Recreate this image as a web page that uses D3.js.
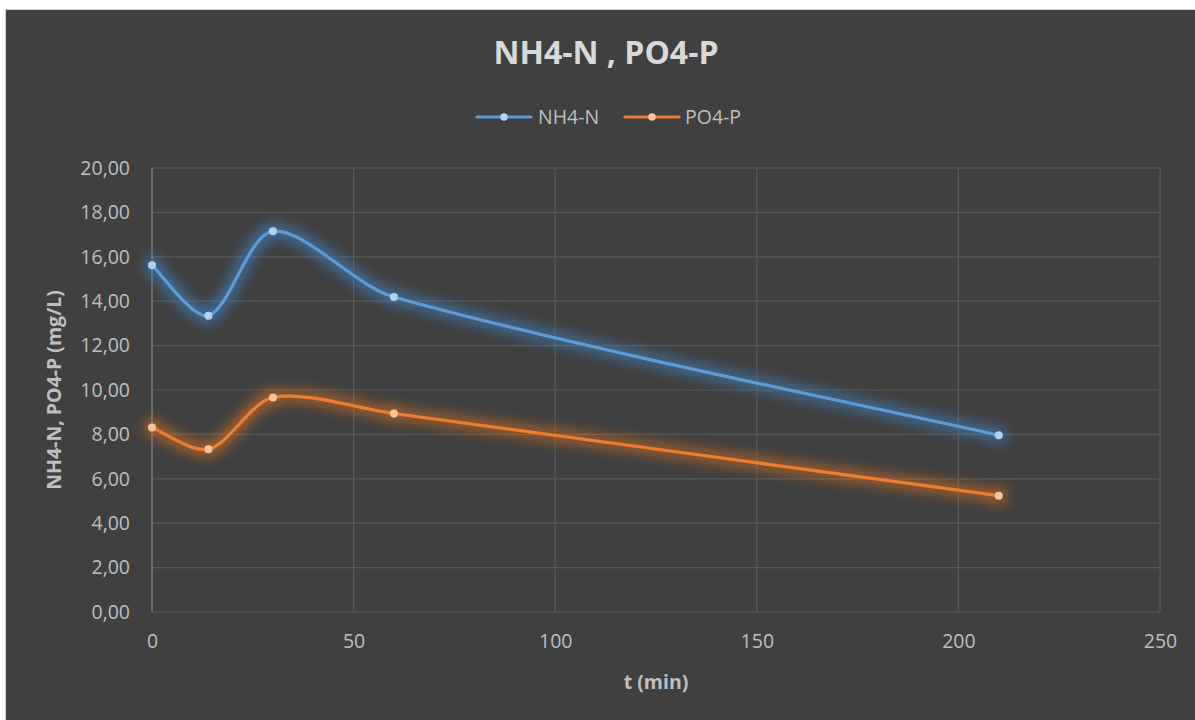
<!DOCTYPE html>
<html>
<head>
<meta charset="utf-8">
<script src="https://cdn.jsdelivr.net/npm/d3@7"></script>
<style>
  html, body { margin: 0; padding: 0; background: #ffffff; }
  svg { display: block; }
</style>
</head>
<body>
<svg id="chart" width="1195" height="720"></svg>
<script>
// Sampling times (min)
const times = [0, 14, 30, 60, 210];
// Measured concentrations (mg/L)
const nh4 = [15.62, 13.35, 17.15, 14.19, 7.96];
const po4 = [8.31, 7.33, 9.66, 8.94, 5.24];
const seriesNames = ["NH4-N", "PO4-P"];
const xTicks = [0, 50, 100, 150, 200, 250];
const yTicks = [0, 2, 4, 6, 8, 10, 12, 14, 16, 18, 20];

const svg = d3.select("#chart");
const W = 1195, H = 720;
const font = "'Open Sans', 'Noto Sans', sans-serif";

// chart area panel
svg.append("rect").attr("x", 5.5).attr("y", 9.5).attr("width", W).attr("height", H)
  .attr("fill", "#404040").attr("stroke", "#d0d0d0").attr("stroke-width", 1);

const plot = { left: 152, right: 1160, top: 168, bottom: 612 };
const x = d3.scaleLinear().domain([0, 250]).range([plot.left, plot.right]);
const y = d3.scaleLinear().domain([0, 20]).range([plot.bottom, plot.top]);

// soft glow around the series lines and markers
const defs = svg.append("defs");
function glow(id, color) {
  const f = defs.append("filter").attr("id", id)
    .attr("x", "-10%").attr("y", "-30%").attr("width", "120%").attr("height", "160%");
  f.append("feMorphology").attr("in", "SourceAlpha").attr("operator", "dilate").attr("radius", 3).attr("result", "d");
  f.append("feGaussianBlur").attr("in", "d").attr("stdDeviation", 6.5).attr("result", "b");
  f.append("feFlood").attr("flood-color", color).attr("flood-opacity", 0.75).attr("result", "c");
  f.append("feComposite").attr("in", "c").attr("in2", "b").attr("operator", "in").attr("result", "g");
  const m = f.append("feMerge");
  m.append("feMergeNode").attr("in", "g");
  m.append("feMergeNode").attr("in", "SourceGraphic");
}
glow("glowBlue", "#3f86d0");
glow("glowOrange", "#e2721f");

// gridlines
svg.append("g").selectAll("line").data(yTicks).join("line")
  .attr("x1", plot.left).attr("x2", plot.right)
  .attr("y1", d => y(d)).attr("y2", d => y(d))
  .attr("stroke", "#595959").attr("stroke-width", 1.2);
svg.append("g").selectAll("line").data(xTicks.slice(1)).join("line")
  .attr("x1", d => x(d)).attr("x2", d => x(d))
  .attr("y1", plot.top).attr("y2", plot.bottom)
  .attr("stroke", "#595959").attr("stroke-width", 1.2);
// vertical axis line
svg.append("line").attr("x1", x(0)).attr("x2", x(0))
  .attr("y1", plot.top).attr("y2", plot.bottom)
  .attr("stroke", "#8a8a8a").attr("stroke-width", 1.2);

// axes (labels only)
const yAxis = d3.axisLeft(y).tickValues(yTicks).tickSize(0).tickPadding(22)
  .tickFormat(d => d3.format(".2f")(d).replace(".", ","));
const gy = svg.append("g").attr("transform", `translate(${plot.left},0)`).call(yAxis);
gy.select(".domain").remove();
gy.selectAll("text").attr("font-family", font).attr("font-size", 19.5).attr("fill", "#bfbfbf");

const xAxis = d3.axisBottom(x).tickValues(xTicks).tickSize(0).tickPadding(22);
const gx = svg.append("g").attr("transform", `translate(0,${plot.bottom})`).call(xAxis);
gx.select(".domain").remove();
gx.selectAll("text").attr("font-family", font).attr("font-size", 19.5).attr("fill", "#bfbfbf");

// smoothed line: cubic Bezier through the points, tangent handles scaled
// by the length of the neighbouring segments so long segments don't bulge short ones
function smoothPath(px) {
  const p = d3.path();
  const n = px.length;
  const dist = (a, b) => Math.hypot(b[0] - a[0], b[1] - a[1]);
  const k = 0.3;
  const handles = px.map((pt, i) => {
    if (i === 0 || i === n - 1) {
      const o = i === 0 ? px[1] : px[n - 2];
      const v = [(o[0] - pt[0]) / 6, (o[1] - pt[1]) / 6];
      return i === 0 ? { out: [pt[0] + v[0], pt[1] + v[1]] } : { inn: [pt[0] + v[0], pt[1] + v[1]] };
    }
    const a = px[i - 1], b = px[i + 1];
    const da = dist(a, pt), db = dist(pt, b), s = da + db;
    const t = [b[0] - a[0], b[1] - a[1]];
    return {
      inn: [pt[0] - t[0] * k * da / s, pt[1] - t[1] * k * da / s],
      out: [pt[0] + t[0] * k * db / s, pt[1] + t[1] * k * db / s]
    };
  });
  p.moveTo(px[0][0], px[0][1]);
  for (let i = 1; i < n; i++) {
    const c1 = handles[i - 1].out, c2 = handles[i].inn;
    p.bezierCurveTo(c1[0], c1[1], c2[0], c2[1], px[i][0], px[i][1]);
  }
  return p.toString();
}

// series
const series = [
  { name: seriesNames[0], values: nh4, color: "#5b9bd5", marker: "#b0d1f0", filter: "glowBlue" },
  { name: seriesNames[1], values: po4, color: "#ed7d31", marker: "#f7c29c", filter: "glowOrange" }
];

series.forEach(s => {
  const pts = times.map((t, i) => [t, s.values[i]]);
  const px = pts.map(d => [x(d[0]), y(d[1])]);
  const g = svg.append("g").attr("filter", `url(#${s.filter})`);
  g.append("path").attr("d", smoothPath(px))
    .attr("fill", "none").attr("stroke", s.color).attr("stroke-width", 3.2)
    .attr("stroke-linecap", "round");
  g.selectAll("circle").data(pts).join("circle")
    .attr("cx", d => x(d[0])).attr("cy", d => y(d[1])).attr("r", 4)
    .attr("fill", s.marker);
});

// title
svg.append("text").attr("x", 606).attr("y", 64).attr("text-anchor", "middle")
  .attr("font-family", font).attr("font-weight", "bold").attr("font-size", 32)
  .attr("fill", "#d9d9d9").text("NH4-N , PO4-P");

// legend
const legendItems = [
  { x0: 477, tx: 538 },
  { x0: 625, tx: 685 }
];
series.forEach((s, i) => {
  const L = legendItems[i];
  svg.append("line").attr("x1", L.x0).attr("x2", L.x0 + 54).attr("y1", 117).attr("y2", 117)
    .attr("stroke", s.color).attr("stroke-width", 3.2).attr("stroke-linecap", "round");
  svg.append("circle").attr("cx", L.x0 + 27).attr("cy", 117).attr("r", 3.8).attr("fill", s.marker);
  svg.append("text").attr("x", L.tx).attr("y", 124)
    .attr("font-family", font).attr("font-size", 19.5).attr("fill", "#bfbfbf").text(s.name);
});

// axis titles
svg.append("text").attr("x", (plot.left + plot.right) / 2).attr("y", 689).attr("text-anchor", "middle")
  .attr("font-family", font).attr("font-weight", "bold").attr("font-size", 19.5)
  .attr("fill", "#bfbfbf").text("t (min)");
svg.append("text").attr("transform", `translate(61,${(plot.top + plot.bottom) / 2}) rotate(-90)`)
  .attr("text-anchor", "middle")
  .attr("font-family", font).attr("font-weight", "bold").attr("font-size", 19.5)
  .attr("fill", "#bfbfbf").text("NH4-N, PO4-P (mg/L)");
</script>
</body>
</html>
